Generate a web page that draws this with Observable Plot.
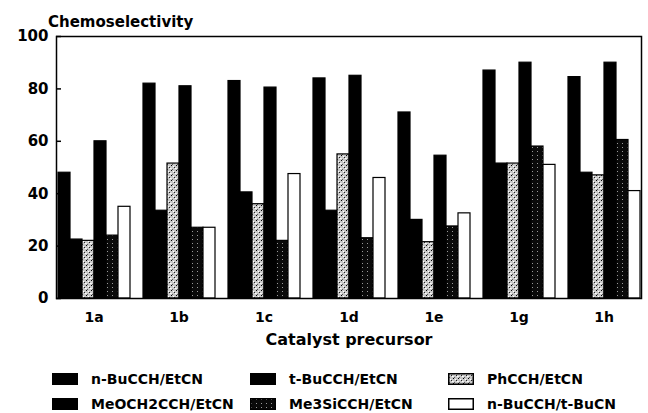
<!DOCTYPE html>
<html><head><meta charset="utf-8">
<script src="https://cdn.jsdelivr.net/npm/d3@7"></script>
<script src="https://cdn.jsdelivr.net/npm/@observablehq/plot@0.6"></script>
<style>
body{margin:0;background:#fff;width:648px;height:413px;overflow:hidden;font-family:"DejaVu Sans";font-weight:bold;color:#000}
#title{height:30px;box-sizing:border-box;padding:15px 0 0 48px;font-size:15px;line-height:14px}
#legend{margin-top:18px;padding-left:52px;font-size:14px}
.row{display:flex;height:25px;align-items:center}
.item{display:flex;align-items:center;width:198px}
.item svg{margin-right:13px;flex:none}
</style></head><body>
<svg width="0" height="0" style="position:absolute"><defs>
<pattern id="ph" width="5" height="5" patternUnits="userSpaceOnUse">
<rect width="5" height="5" fill="#c8c8c8"/>
<rect x="0" y="0" width="1" height="1" fill="#000"/><rect x="3" y="2" width="1" height="1" fill="#222"/><rect x="1" y="4" width="1" height="1" fill="#555"/>
<rect x="2" y="1" width="1" height="1" fill="#fff"/><rect x="4" y="3" width="1" height="1" fill="#fff"/><rect x="0" y="3" width="1" height="1" fill="#eee"/>
</pattern>
<pattern id="si" width="5" height="4" patternUnits="userSpaceOnUse">
<rect width="5" height="4" fill="#0a0a0a"/>
<rect x="1" y="1" width="1" height="1" fill="#999"/>
</pattern>
</defs></svg>
<div id="title">Chemoselectivity</div>
<div id="chart"></div>
<div id="legend"></div>
<script>
const catalysts = ["1a","1b","1c","1d","1e","1g","1h"];
const series = ["n-BuCCH/EtCN","MeOCH2CCH/EtCN","PhCCH/EtCN","t-BuCCH/EtCN","Me3SiCCH/EtCN","n-BuCCH/t-BuCN"];
const nBuEtCN   = [48, 82, 83, 84, 71, 87, 84.5];
const meoEtCN   = [22.5, 33.5, 40.5, 33.5, 30, 51.5, 48];
const phEtCN    = [22, 51.5, 36, 55, 21.5, 51.5, 47];
const tBuEtCN   = [60, 81, 80.5, 85, 54.5, 90, 90];
const me3SiEtCN = [24, 27, 22, 23, 27.5, 58, 60.5];
const nBuTBuCN  = [35, 27, 47.5, 46, 32.5, 51, 41];
const yTicks = [0, 20, 40, 60, 80, 100];
const legendOrder = ["n-BuCCH/EtCN","t-BuCCH/EtCN","PhCCH/EtCN","MeOCH2CCH/EtCN","Me3SiCCH/EtCN","n-BuCCH/t-BuCN"];
const fills = ["#000","#000","url(#ph)","#000","url(#si)","#fff"];

const values = [nBuEtCN, meoEtCN, phEtCN, tBuEtCN, me3SiEtCN, nBuTBuCN];
const data = catalysts.flatMap((c, i) => series.map((s, j) => ({catalyst: c, series: s, value: values[j][i]})));

const chart = Plot.plot({
  width: 648, height: 318,
  marginTop: 6, marginBottom: 50, marginLeft: 50, marginRight: 1,
  style: {fontFamily: "DejaVu Sans", fontWeight: "bold", fontSize: "14px", color: "black", background: "white", overflow: "visible"},
  fx: {domain: catalysts, paddingInner: 0.12, paddingOuter: 0.06, label: null},
  x: {domain: series, axis: null, padding: 0},
  y: {domain: [0, 100]},
  color: {domain: series, range: fills},
  marks: [
    Plot.barY(data, {fx: "catalyst", x: "series", y: "value", fill: "series", stroke: "black", strokeWidth: 1.2}),
    Plot.axisY({ticks: yTicks, tickSize: -5, tickPadding: 13, fontSize: 15, label: null, strokeWidth: 1.5}),
    Plot.axisFx({anchor: "bottom", tickSize: 0, tickPadding: 14, fontSize: 14, label: null}),
    Plot.axisFx({anchor: "bottom", tickSize: 0, tickFormat: () => "", label: "Catalyst precursor", labelAnchor: "center", fontSize: 16, labelOffset: 46}),
    Plot.frame({facet: "super", stroke: "black", strokeWidth: 1.5})
  ]
});
document.getElementById("chart").appendChild(chart);

const legend = d3.select("#legend");
for (let r = 0; r < 2; r++) {
  const row = legend.append("div").attr("class", "row");
  for (let c = 0; c < 3; c++) {
    const name = legendOrder[r * 3 + c];
    const item = row.append("div").attr("class", "item");
    const sw = item.append("svg").attr("width", 26).attr("height", 12);
    sw.append("rect").attr("x", 0.75).attr("y", 0.75).attr("width", 24.5).attr("height", 10.5)
      .attr("fill", fills[series.indexOf(name)]).attr("stroke", "black").attr("stroke-width", 1.5);
    item.append("span").text(name);
  }
}
</script>
</body></html>
